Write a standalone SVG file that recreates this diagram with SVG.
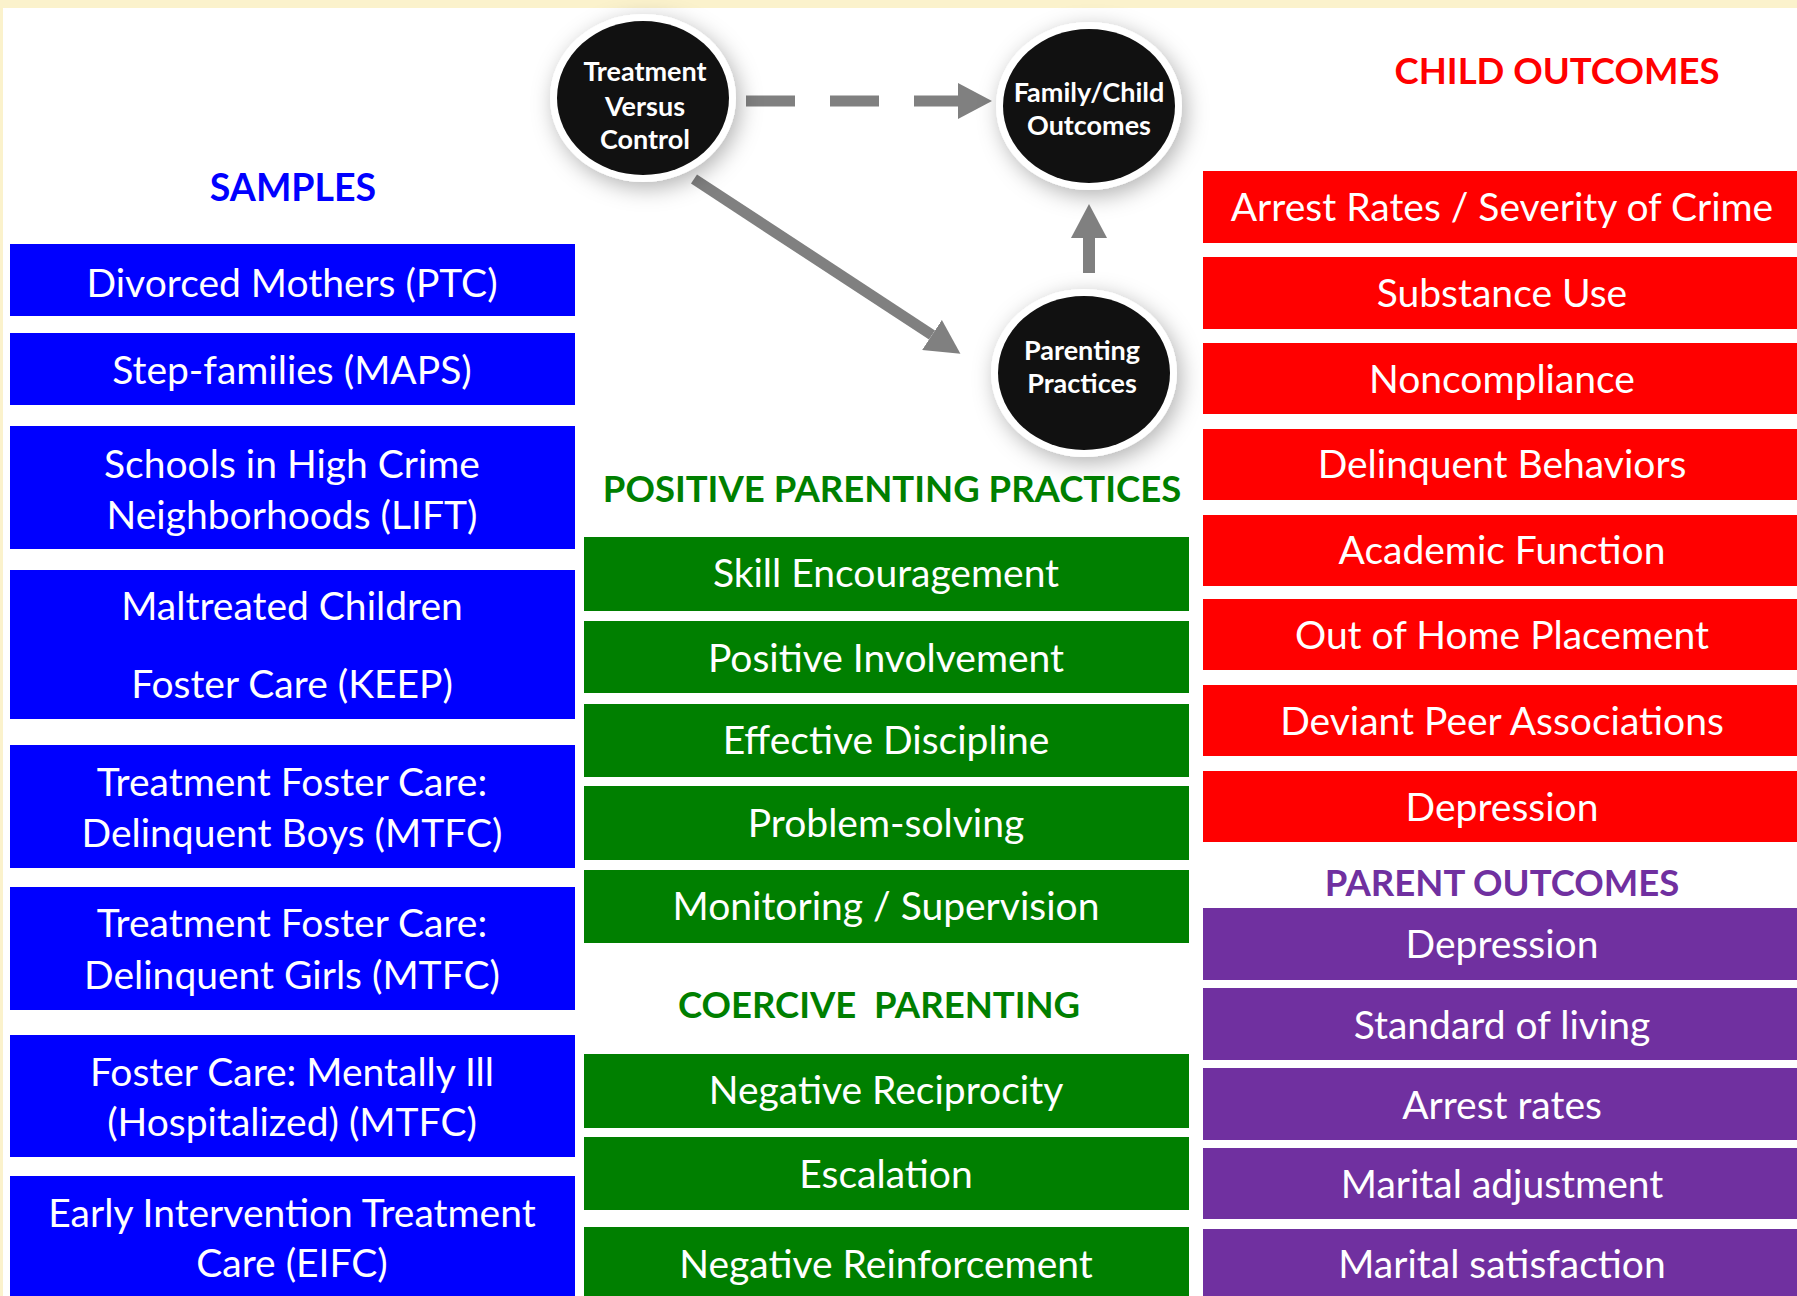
<svg xmlns="http://www.w3.org/2000/svg" width="1797" height="1296" viewBox="0 0 1797 1296">
<defs>
<style>
.bx{font-family:Lato,"Open Sans","Liberation Sans",sans-serif;font-size:39px;fill:#fff;text-anchor:middle}
.ttl{font-family:Lato,"Open Sans","Liberation Sans",sans-serif;font-size:36.5px;font-weight:bold;text-anchor:middle}
.ct{font-family:Lato,"Open Sans","Liberation Sans",sans-serif;font-size:27px;font-weight:bold;fill:#fff;text-anchor:middle}
.blue{fill:#0000FF}.green{fill:#007F00}.red{fill:#FF0000}.purple{fill:#7030A0}
.conn{stroke:#808080;fill:none}
</style>
<filter id="glow" x="-40%" y="-40%" width="180%" height="180%">
<feGaussianBlur in="SourceAlpha" stdDeviation="11"/>
<feOffset dx="4" dy="6" result="b"/>
<feFlood flood-color="#000" flood-opacity="0.3"/>
<feComposite in2="b" operator="in"/>
<feMerge><feMergeNode/><feMergeNode in="SourceGraphic"/></feMerge>
</filter>
<marker id="ah" markerUnits="userSpaceOnUse" markerWidth="34" markerHeight="36" viewBox="0 0 34 36" refX="0" refY="18" orient="auto">
<path d="M0,0 L34,18 L0,36 z" fill="#808080"/>
</marker>
</defs>
<rect x="0" y="0" width="1797" height="1296" fill="#FBF2CC"/>
<rect x="3" y="8" width="1794" height="1288" fill="#FFFFFF"/>

<g id="connectors">
<path class="conn" d="M746,101 L958,101" stroke-width="11" stroke-dasharray="49 35" marker-end="url(#ah)"/>
<path class="conn" d="M694,179 L932,335" stroke-width="11" marker-end="url(#ah)"/>
<path class="conn" d="M1089,273 L1089,238" stroke-width="12" marker-end="url(#ah)"/>
</g>

<g id="node-treatment">
<ellipse cx="643" cy="98" rx="93" ry="84" fill="#fff" filter="url(#glow)"/>
<ellipse cx="643" cy="98" rx="86" ry="77" fill="#111"/>
<text class="ct" x="645" y="81">Treatment</text>
<text class="ct" x="645" y="116">Versus</text>
<text class="ct" x="645" y="149">Control</text>
</g>
<g id="node-outcomes">
<ellipse cx="1089" cy="106" rx="93" ry="84" fill="#fff" filter="url(#glow)"/>
<ellipse cx="1089" cy="106" rx="86" ry="77" fill="#111"/>
<text class="ct" x="1089" y="102">Family/Child</text>
<text class="ct" x="1089" y="135">Outcomes</text>
</g>
<g id="node-parenting">
<ellipse cx="1084" cy="373" rx="93" ry="84" fill="#fff" filter="url(#glow)"/>
<ellipse cx="1084" cy="373" rx="86" ry="77" fill="#111"/>
<text class="ct" x="1082" y="360">Parenting</text>
<text class="ct" x="1082" y="393">Practices</text>
</g>

<g id="samples">
<text class="ttl blue" x="293" y="201" style="font-size:37.5px">SAMPLES</text>
<g id="s1"><rect class="blue" x="10" y="244" width="565" height="72"/><text class="bx" x="292" y="297">Divorced Mothers (PTC)</text></g>
<g id="s2"><rect class="blue" x="10" y="333" width="565" height="72"/><text class="bx" x="292" y="384">Step-families (MAPS)</text></g>
<g id="s3"><rect class="blue" x="10" y="426" width="565" height="123"/><text class="bx" x="292" y="478">Schools in High Crime</text><text class="bx" x="292" y="529">Neighborhoods (LIFT)</text></g>
<g id="s4"><rect class="blue" x="10" y="570" width="565" height="149"/><text class="bx" x="292" y="620">Maltreated Children</text><text class="bx" x="292" y="698">Foster Care (KEEP)</text></g>
<g id="s5"><rect class="blue" x="10" y="745" width="565" height="123"/><text class="bx" x="292" y="796">Treatment Foster Care:</text><text class="bx" x="292" y="847">Delinquent Boys (MTFC)</text></g>
<g id="s6"><rect class="blue" x="10" y="887" width="565" height="123"/><text class="bx" x="292" y="937">Treatment Foster Care:</text><text class="bx" x="292" y="989">Delinquent Girls (MTFC)</text></g>
<g id="s7"><rect class="blue" x="10" y="1035" width="565" height="122"/><text class="bx" x="292" y="1086">Foster Care: Mentally Ill</text><text class="bx" x="292" y="1136">(Hospitalized) (MTFC)</text></g>
<g id="s8"><rect class="blue" x="10" y="1176" width="565" height="120"/><text class="bx" x="292" y="1227">Early Intervention Treatment</text><text class="bx" x="292" y="1277">Care (EIFC)</text></g>
</g>

<g id="practices">
<text class="ttl green" x="892" y="502">POSITIVE PARENTING PRACTICES</text>
<g id="p1"><rect class="green" x="584" y="537" width="605" height="74"/><text class="bx" x="886" y="587">Skill Encouragement</text></g>
<g id="p2"><rect class="green" x="584" y="621" width="605" height="72"/><text class="bx" x="886" y="672">Positive Involvement</text></g>
<g id="p3"><rect class="green" x="584" y="704" width="605" height="73"/><text class="bx" x="886" y="754">Effective Discipline</text></g>
<g id="p4"><rect class="green" x="584" y="786" width="605" height="74"/><text class="bx" x="886" y="837">Problem-solving</text></g>
<g id="p5"><rect class="green" x="584" y="870" width="605" height="73"/><text class="bx" x="886" y="920">Monitoring / Supervision</text></g>
<text class="ttl green" x="879" y="1018" xml:space="preserve">COERCIVE  PARENTING</text>
<g id="p6"><rect class="green" x="584" y="1054" width="605" height="74"/><text class="bx" x="886" y="1104">Negative Reciprocity</text></g>
<g id="p7"><rect class="green" x="584" y="1137" width="605" height="73"/><text class="bx" x="886" y="1188">Escalation</text></g>
<g id="p8"><rect class="green" x="584" y="1227" width="605" height="69"/><text class="bx" x="886" y="1278">Negative Reinforcement</text></g>
</g>

<g id="child-outcomes">
<text class="ttl red" x="1557" y="84">CHILD OUTCOMES</text>
<g id="c1"><rect class="red" x="1203" y="171" width="594" height="72"/><text class="bx" x="1502" y="221">Arrest Rates / Severity of Crime</text></g>
<g id="c2"><rect class="red" x="1203" y="257" width="594" height="72"/><text class="bx" x="1502" y="307">Substance Use</text></g>
<g id="c3"><rect class="red" x="1203" y="343" width="594" height="71"/><text class="bx" x="1502" y="393">Noncompliance</text></g>
<g id="c4"><rect class="red" x="1203" y="429" width="594" height="71"/><text class="bx" x="1502" y="478">Delinquent Behaviors</text></g>
<g id="c5"><rect class="red" x="1203" y="515" width="594" height="71"/><text class="bx" x="1502" y="564">Academic Function</text></g>
<g id="c6"><rect class="red" x="1203" y="599" width="594" height="71"/><text class="bx" x="1502" y="649">Out of Home Placement</text></g>
<g id="c7"><rect class="red" x="1203" y="685" width="594" height="71"/><text class="bx" x="1502" y="735">Deviant Peer Associations</text></g>
<g id="c8"><rect class="red" x="1203" y="771" width="594" height="71"/><text class="bx" x="1502" y="821">Depression</text></g>
</g>

<g id="parent-outcomes">
<text class="ttl purple" x="1502" y="896">PARENT OUTCOMES</text>
<g id="q1"><rect class="purple" x="1203" y="908" width="594" height="72"/><text class="bx" x="1502" y="958">Depression</text></g>
<g id="q2"><rect class="purple" x="1203" y="988" width="594" height="72"/><text class="bx" x="1502" y="1039">Standard of living</text></g>
<g id="q3"><rect class="purple" x="1203" y="1068" width="594" height="72"/><text class="bx" x="1502" y="1119">Arrest rates</text></g>
<g id="q4"><rect class="purple" x="1203" y="1148" width="594" height="71"/><text class="bx" x="1502" y="1198">Marital adjustment</text></g>
<g id="q5"><rect class="purple" x="1203" y="1229" width="594" height="67"/><text class="bx" x="1502" y="1278">Marital satisfaction</text></g>
</g>
</svg>
